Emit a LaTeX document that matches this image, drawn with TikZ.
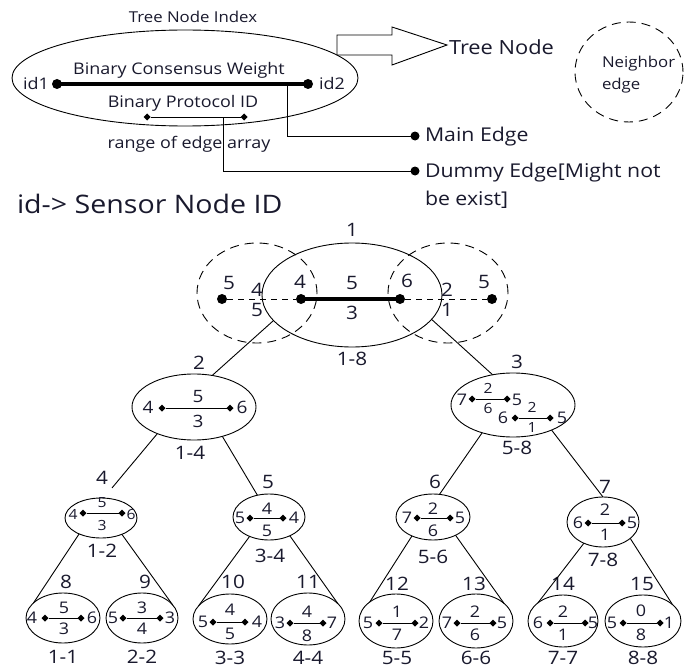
\documentclass[tikz,border=0pt]{standalone}
\usepackage{fontspec}
\setmainfont[FakeStretch=1.12]{Open Sans}
\usetikzlibrary{shapes.geometric}
\definecolor{txt}{RGB}{25,25,45}
\tikzset{
  every node/.style={inner sep=0pt,outer sep=0pt,text=txt},
  ell/.style 2 args={draw,ellipse,minimum width=#1pt,minimum height=#2pt},
  dotb/.style={circle,fill=black,minimum size=10pt},
  dotm/.style={circle,fill=black,minimum size=9pt},
  tipd/.style={diamond,fill=black,minimum size=7pt},
  fbig/.style={font=\fontsize{18.5}{20}\selectfont},
  fmid/.style={font=\fontsize{16}{18}\selectfont},
  fsml/.style={font=\fontsize{14}{16}\selectfont},
  fleg/.style={font=\fontsize{16}{18}\selectfont},
  flegb/.style={font=\fontsize{19}{21}\selectfont},
  dsh/.style={dash pattern=on 9pt off 6pt},
  dshs/.style={dash pattern=on 6pt off 5pt},
}
\newcommand\tipline[4]{%
  \node[tipd] (#1a) at (#2,#4) {};
  \node[tipd] (#1b) at (#3,#4) {};
  \draw (#1a) -- (#1b);}
\begin{document}
\begin{tikzpicture}[x=1pt,y=-1pt,line width=0.9pt]
\useasboundingbox (0,0) rectangle (686,669);

% ---------------- legend ----------------
\node[font=\fontsize{15}{17}\selectfont,anchor=base] (tni) at (193,23) {Tree Node Index};
\node[ell={346}{96}] (leg) at (185,78) {};
\node[dotb] (id1d) at (57,84) {};
\node[dotb] (id2d) at (308,84) {};
\draw[line width=4pt] (id1d.center) -- (id2d.center);
\node[fleg,anchor=base] (id1) at (36,90) {id1};
\node[fleg,anchor=base] (id2) at (332,90) {id2};
\node[fleg,anchor=base] (bcw) at (179,75) {Binary Consensus Weight};
\node[fleg,anchor=base] (bpi) at (183,107) {Binary Protocol ID};
\tipline{rg}{147}{244}{117}
\node[fleg,anchor=base] (rea) at (189,148) {range of edge array};
\coordinate (de) at (223,117);
\coordinate (me) at (287,84);
\node[dotm] (med) at (415,136) {};
\node[dotm] (ded) at (415,171) {};
\draw (me) |- (med);
\draw (de) |- (ded);
\node[flegb,anchor=base west] (mel) at (425,142) {Main Edge};
\node[flegb,anchor=base west] (del1) at (425,177) {Dummy Edge[Might not};
\node[flegb,anchor=base west] (del2) at (425,205) {be exist]};
\draw[fill=white] (337,55) -- (337,35) -- (392,35) -- (392,27) -- (447,45) -- (392,65) -- (392,55) -- cycle;
\node[font=\fontsize{19.5}{21}\selectfont,anchor=base west] (tn) at (449,55) {Tree Node};
\node[ell={108}{100},dsh] (ne) at (629,72) {};
\node[font=\fontsize{15}{17}\selectfont,anchor=base west] (ne1) at (602,68) {Neighbor};
\node[font=\fontsize{15}{17}\selectfont,anchor=base west] (ne2) at (602,90) {edge};
\node[font=\fontsize{25.5}{28}\selectfont,anchor=base west] (sid) at (17,213) {id-> Sensor Node ID};

% ---------------- root ----------------
\node[ell={120}{100},dsh] (nl) at (257,293) {};
\node[ell={120}{100},dsh] (nr) at (448,293) {};
\node[ell={180}{104}] (r) at (352,295) {};
\node[dotb] (ra) at (222,299) {};
\node[dotb] (rb) at (301,299) {};
\node[dotb] (rc) at (400,299) {};
\node[dotb] (rd) at (492,299) {};
\draw[dshs] (ra) -- (rb);
\draw[dshs] (rc) -- (rd);
\draw[line width=4pt] (rb.center) -- (rc.center);
\node[fbig] (l1) at (352,230) {1};
\node[fbig] (r1) at (229,283) {5};
\node[fbig] (r2) at (257,290) {4};
\node[fbig] (r3) at (257,310) {5};
\node[fbig] (r4) at (300,282) {4};
\node[fbig] (r5) at (352,283) {5};
\node[fbig] (r6) at (352,313) {3};
\node[fbig] (r7) at (407,281) {6};
\node[fbig] (r8) at (447,290) {2};
\node[fbig] (r9) at (447,310) {1};
\node[fbig] (r10) at (484,282) {5};
\node[fbig] (g1) at (352,359) {1-8};

% ---------------- level 2 ----------------
\node[ell={124}{66}] (n2) at (194,407) {};
\node[fbig] (l2) at (199,363) {2};
\node[font=\fontsize{17}{19}\selectfont] (c2a) at (148,407) {4};
\node[font=\fontsize{17}{19}\selectfont] (c2b) at (242,407) {6};
\node[font=\fontsize{17}{19}\selectfont] (c2c) at (198,397) {5};
\node[font=\fontsize{17}{19}\selectfont] (c2d) at (198,421) {3};
\tipline{t2}{162}{230}{408}
\node[fbig] (g2) at (190,453) {1-4};

\node[ell={124}{64}] (n3) at (513,405) {};
\node[fbig] (l3) at (517,362) {3};
\node[fmid] (c3a) at (462,400) {7};
\node[fmid] (c3b) at (517,400) {5};
\node[fsml] (c3c) at (488,388) {2};
\node[fsml] (c3d) at (488,408) {6};
\tipline{t3a}{472}{507}{399}
\node[fmid] (c3e) at (503,418) {6};
\node[fmid] (c3f) at (562,418) {5};
\node[fsml] (c3g) at (532,407) {2};
\node[fsml] (c3h) at (532,428) {1};
\tipline{t3b}{515}{550}{418}
\node[fbig] (g3) at (517,448) {5-8};

% ---------------- level 3 ----------------
\node[ell={72}{40}] (n4) at (101,518) {};
\node[fbig] (l4) at (102,478) {4};
\node[fsml] (c4a) at (73,514) {4};
\node[fsml] (c4b) at (131,514) {6};
\node[fsml] (c4c) at (102,503) {5};
\node[fsml] (c4d) at (102,525) {3};
\tipline{t4}{83}{122}{513}
\node[fbig] (g4) at (102,551) {1-2};

\node[ell={72}{46}] (n5) at (269,517) {};
\node[fbig] (l5) at (268,482) {5};
\node[fmid] (c5a) at (240,518) {5};
\node[fmid] (c5b) at (294,518) {4};
\node[fmid] (c5c) at (267,509) {4};
\node[fmid] (c5d) at (267,531) {5};
\tipline{t5}{250}{283}{518}
\node[fbig] (g5) at (270,556) {3-4};

\node[ell={74}{46}] (n6) at (433,517) {};
\node[fbig] (l6) at (435,482) {6};
\node[fmid] (c6a) at (407,518) {7};
\node[fmid] (c6b) at (460,518) {5};
\node[fmid] (c6c) at (433,509) {2};
\node[fmid] (c6d) at (433,531) {6};
\tipline{t6}{417}{450}{518}
\node[fbig] (g6) at (433,557) {5-6};

\node[ell={72}{50}] (n7) at (603,522) {};
\node[fbig] (l7) at (605,487) {7};
\node[fmid] (c7a) at (578,523) {6};
\node[fmid] (c7b) at (632,523) {5};
\node[fmid] (c7c) at (605,510) {2};
\node[fmid] (c7d) at (605,535) {1};
\tipline{t7}{588}{622}{523}
\node[fbig] (g7) at (603,560) {7-8};

% ---------------- leaves ----------------
\node[ell={74}{50}] (n8) at (63,618) {};
\node[fbig] (l8) at (66,582) {8};
\node[fmid] (c8a) at (32,618) {4};
\node[fmid] (c8b) at (92,618) {6};
\node[fmid] (c8c) at (64,608) {5};
\node[fmid] (c8d) at (64,629) {3};
\tipline{t8}{45}{81}{618}
\node[fbig] (g8) at (63,657) {1-1};

\node[ell={72}{50}] (n9) at (142,618) {};
\node[fbig] (l9) at (145,582) {9};
\node[fmid] (c9a) at (113,618) {5};
\node[fmid] (c9b) at (170,618) {3};
\node[fmid] (c9c) at (142,608) {3};
\node[fmid] (c9d) at (142,629) {4};
\tipline{t9}{123}{160}{618}
\node[fbig] (g9) at (142,657) {2-2};

\node[ell={74}{50}] (n10) at (230,619) {};
\node[fbig] (l10) at (233,582) {10};
\node[fmid] (c10a) at (203,622) {5};
\node[fmid] (c10b) at (257,622) {4};
\node[fmid] (c10c) at (230,610) {4};
\node[fmid] (c10d) at (230,634) {5};
\tipline{t10}{213}{245}{622}
\node[fbig] (g10) at (230,658) {3-3};

\node[ell={74}{52}] (n11) at (308,619) {};
\node[fbig] (l11) at (308,582) {11};
\node[fmid] (c11a) at (280,623) {3};
\node[fmid] (c11b) at (332,623) {7};
\node[fmid] (c11c) at (307,612) {4};
\node[fmid] (c11d) at (307,636) {8};
\tipline{t11}{290}{323}{623}
\node[fbig] (g11) at (308,658) {4-4};

\node[ell={74}{54}] (n12) at (396,621) {};
\node[fbig] (l12) at (397,584) {12};
\node[fmid] (c12a) at (368,623) {5};
\node[fmid] (c12b) at (424,623) {2};
\node[fmid] (c12c) at (397,612) {1};
\node[fmid] (c12d) at (397,635) {7};
\tipline{t12}{379}{415}{623}
\node[fbig] (g12) at (397,658) {5-5};

\node[ell={74}{54}] (n13) at (476,621) {};
\node[fbig] (l13) at (474,584) {13};
\node[fmid] (c13a) at (447,623) {7};
\node[fmid] (c13b) at (502,623) {5};
\node[fmid] (c13c) at (475,612) {2};
\node[fmid] (c13d) at (475,635) {6};
\tipline{t13}{457}{493}{623}
\node[fbig] (g13) at (476,658) {6-6};

\node[ell={70}{52}] (n14) at (563,621) {};
\node[fbig] (l14) at (563,584) {14};
\node[fmid] (c14a) at (538,623) {6};
\node[fmid] (c14b) at (593,623) {5};
\node[fmid] (c14c) at (563,612) {2};
\node[fmid] (c14d) at (563,635) {1};
\tipline{t14}{550}{585}{623}
\node[fbig] (g14) at (563,658) {7-7};

\node[ell={76}{52}] (n15) at (643,621) {};
\node[fbig] (l15) at (642,584) {15};
\node[fmid] (c15a) at (612,623) {5};
\node[fmid] (c15b) at (669,623) {1};
\node[fmid] (c15c) at (641,611) {0};
\node[fmid] (c15d) at (641,635) {8};
\tipline{t15}{623}{660}{623}
\node[fbig] (g15) at (643,658) {8-8};

% ---------------- tree edges ----------------
\draw (r.198.6) -- (n2.60);
\draw (r.-17.4) -- (n3.124);
\draw (n2.216) -- ([yshift=11pt]n4.60);
\draw (n2.-46) -- (n5.118);
\draw (n3.222) -- (n6.74);
\draw (n3.-33) -- (n7.90);
\draw (n4.216) -- (n8.153);
\draw (n4.-38) -- (n9.23);
\draw (n5.225) -- (n10.157);
\draw (n5.-42) -- (n11.27);
\draw (n6.222) -- (n12.144);
\draw (n6.-39) -- (n13.32);
\draw (n7.228) -- (n14.144);
\draw (n7.-31) -- (n15.29);
\end{tikzpicture}
\end{document}
